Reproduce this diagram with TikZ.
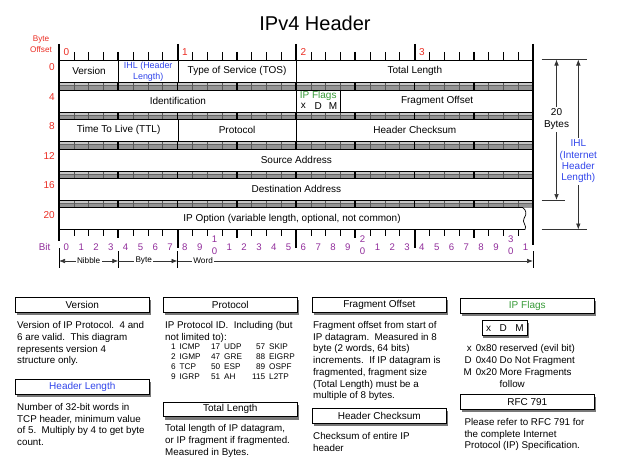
\documentclass[tikz,border=0pt]{standalone}
\usepackage{fontspec}
\setmainfont{Liberation Sans}
\usetikzlibrary{arrows.meta}
\definecolor{offred}{RGB}{235,45,35}
\definecolor{ihlblue}{RGB}{50,70,235}
\definecolor{flaggreen}{RGB}{55,155,55}
\definecolor{bitpurple}{RGB}{145,45,155}
\definecolor{shadowgray}{RGB}{120,120,120}
\newcommand\mkhbox[5][]{%
  \fill[shadowgray] ({#3+1.5},{#4+3}) rectangle ({#3+135.8},{#4+17.8});
  \node[titlebox,#1] (#2) at (#3,#4) {#5};}
\begin{document}
\begin{tikzpicture}[x=1pt,y=-1pt,
 >={Latex[length=6pt,width=4.6pt]},
 fld/.style={draw,line width=0.7pt,fill=white,inner sep=0pt,minimum height=22pt,anchor=north west,font=\fontsize{10}{11}\selectfont,align=center},
 titlebox/.style={draw,line width=0.6pt,fill=white,inner sep=0pt,anchor=north west,minimum width=134pt,minimum height=14.5pt,font=\fontsize{10}{12}\selectfont},
 desc/.style={inner sep=0pt,anchor=north west,align=left,font=\fontsize{9.8}{11.7}\selectfont},
 tabl/.style={inner sep=0pt,anchor=north west,font=\fontsize{9.8}{11.7}\selectfont},
 ptabr/.style={inner sep=0pt,anchor=north east,align=right,font=\fontsize{8.2}{10}\selectfont},
 ptabl/.style={inner sep=0pt,anchor=north west,align=left,font=\fontsize{8.2}{10}\selectfont},
 offlbl/.style={inner sep=0pt,text=offred,font=\fontsize{10}{11}\selectfont},
 bitlbl/.style={inner sep=0pt,text=bitpurple,font=\fontsize{9.6}{11}\selectfont},
 small/.style={font=\fontsize{8.2}{9}\selectfont,fill=white,inner xsep=1.5pt,inner ysep=1pt},
 dim/.style={line width=0.7pt,draw=black!80},
 septick/.style={line width=0.5pt,draw=black!65},
 nibtick/.style={line width=1.6pt,draw=black},
]
\useasboundingbox (0,0) rectangle (623,460);

% title
\node[font=\fontsize{20}{24}\selectfont,inner sep=0pt] (title) at (315,23) {IPv4 Header};

% byte offset labels
\node[offlbl,font=\fontsize{8.2}{10.5}\selectfont,align=center] (boff) at (41,44) {Byte\\Offset};
\node[offlbl,anchor=east] (o0) at (55,67.5) {0};
\node[offlbl,anchor=east] (o4) at (55,97) {4};
\node[offlbl,anchor=east] (o8) at (55,126.5) {8};
\node[offlbl,anchor=east] (o12) at (55,156) {12};
\node[offlbl,anchor=east] (o16) at (55,185.5) {16};
\node[offlbl,anchor=east] (o20) at (55,215) {20};

% top ruler labels
\node[offlbl] (t0) at ({59+14.8125*0.5},52.5) {0};
\node[offlbl] (t1) at ({59+14.8125*8.5},52.5) {1};
\node[offlbl] (t2) at ({59+14.8125*16.5},52.5) {2};
\node[offlbl] (t3) at ({59+14.8125*24.5},52.5) {3};

% top ruler ticks
\foreach \i in {1,...,31}{
  \pgfmathtruncatemacro\m{mod(\i,8)}
  \pgfmathtruncatemacro\n{mod(\i,4)}
  \ifnum\m=0
    \draw[line width=2pt] ({59+14.8125*\i},44) -- ({59+14.8125*\i},60);
  \else\ifnum\n=0
    \draw[nibtick] ({59+14.8125*\i},52) -- ({59+14.8125*\i},60);
  \else
    \draw[line width=0.5pt] ({59+14.8125*\i},52.5) -- ({59+14.8125*\i},60);
  \fi\fi
}

% separators
\foreach \s in {82,111.5,141,170.5,200}{
  \fill[black!42] (59,\s) rectangle (533,{\s+7.5});
  \fill[black!22] (59,\s) rectangle (533,{\s+3.4});
  \draw[line width=0.8pt,black!60] (59,{\s+3.6}) -- (533,{\s+3.6});
  \foreach \i in {1,...,31}{
    \pgfmathtruncatemacro\n{mod(\i,4)}
    \ifnum\n=0
      \draw[nibtick] ({59+14.8125*\i},\s) -- ({59+14.8125*\i},{\s+7.5});
    \else
      \draw[septick] ({59+14.8125*\i},\s) -- ({59+14.8125*\i},{\s+7.5});
    \fi
  }
}

% row 0
\node[fld,minimum width=59.25pt] (ver) at (59,60) {Version};
\node[fld,minimum width=59.25pt,text=ihlblue,font=\fontsize{8.9}{11}\selectfont] (ihl) at (118.25,60) {IHL (Header\\Length)};
\node[fld,minimum width=118.5pt] (tos) at (177.5,60) {Type of Service (TOS)};
\node[fld,minimum width=237pt] (tlen) at (296,60) {Total Length};
% row 4
\node[fld,minimum width=237pt] (ident) at (59,89.5) {Identification};
\node[fld,minimum width=44.4375pt] (flags) at (296,89.5) {};
\node[fld,minimum width=192.5625pt] (frag) at (340.4375,89.5) {Fragment Offset};
\node[inner sep=0pt,text=flaggreen,font=\fontsize{10}{11}\selectfont] (flagt) at (318.2,96.2) {IP Flags};
\node[inner sep=0pt,font=\fontsize{10}{11}\selectfont] (fx) at ({59+14.8125*16.5},106.3) {x};
\node[inner sep=0pt,font=\fontsize{10}{11}\selectfont] (fd) at ({59+14.8125*17.5},105.8) {D};
\node[inner sep=0pt,font=\fontsize{10}{11}\selectfont] (fm) at ({59+14.8125*18.5},105.8) {M};
% row 8
\node[fld,minimum width=118.5pt] (ttl) at (59,119) {Time To Live (TTL)};
\node[fld,minimum width=118.5pt] (proto) at (177.5,119) {Protocol};
\node[fld,minimum width=237pt] (csum) at (296,119) {Header Checksum};
% rows 12, 16
\node[fld,minimum width=474pt] (src) at (59,148.5) {Source Address};
\node[fld,minimum width=474pt] (dst) at (59,178) {Destination Address};
% row 20
\draw[line width=0.7pt,fill=white] (59,207.5) -- (522.5,207.5)
  .. controls (526.5,210) and (527,214) .. (524,218.5)
  .. controls (521.5,222) and (527.5,226) .. (525,229.5) -- (59,229.5) -- cycle;
\node[inner sep=0pt,font=\fontsize{10}{11}\selectfont] (ipopt) at (292,218.5) {IP Option (variable length, optional, not common)};

% bottom ruler ticks
\foreach \i in {1,...,31}{
  \pgfmathtruncatemacro\m{mod(\i,8)}
  \pgfmathtruncatemacro\n{mod(\i,4)}
  \ifnum\m=0
    \draw[line width=2pt] ({59+14.8125*\i},229.5) -- ({59+14.8125*\i},248);
  \else\ifnum\n=0
    \draw[nibtick] ({59+14.8125*\i},229.5) -- ({59+14.8125*\i},238);
  \else
    \draw[line width=0.5pt] ({59+14.8125*\i},229.5) -- ({59+14.8125*\i},236);
  \fi\fi
}

% main edges
\draw[line width=2.4pt] (59,44) -- (59,241);
\draw[line width=2.4pt] (533,44) -- (533,245);

% bit labels
\node[bitlbl,anchor=east,font=\fontsize{9.8}{11}\selectfont] (bitw) at (50.5,246.5) {Bit};
\foreach \i in {0,...,31}{
  \pgfmathtruncatemacro\d{mod(\i,10)}
  \pgfmathtruncatemacro\t{div(\i,10)}
  \ifnum\d=0 \ifnum\i>0
    \node[bitlbl] (bt\i) at ({59+14.8125*(\i+0.5)},239.5) {\t};
    \node[bitlbl] (bb\i) at ({59+14.8125*(\i+0.5)},251) {0};
  \else
    \node[bitlbl] (b\i) at ({59+14.8125*(\i+0.5)},247) {0};
  \fi\else
    \node[bitlbl] (b\i) at ({59+14.8125*(\i+0.5)},247) {\d};
  \fi
}

% nibble / byte / word
\coordinate (n0) at (59,261);
\coordinate (n1) at (118.25,261);
\coordinate (n2) at (177.5,261);
\coordinate (n3) at (533,261);
\draw[line width=0.6pt] (59,248) -- (59,268);
\draw[line width=0.6pt] (118.25,251) -- (118.25,268);
\draw[line width=0.6pt] (177.5,251) -- (177.5,268);
\draw[line width=0.6pt] (533,251) -- (533,268);
\draw[dim,<->] (n0) -- node[small] (nib) {Nibble} (n1);
\draw[dim,->] (n1) -- node[small,pos=0.43] (byt) {Byte} (n2);
\draw[dim,->] (n2) -- node[small,pos=0.072] (wrd) {Word} (n3);

% right dimensions
\coordinate (tl) at (541.5,59.5);
\coordinate (tr) at (587,59.5);
\coordinate (ml) at (541.5,200);
\coordinate (mr) at (564.5,200);
\coordinate (bl) at (541.5,229.5);
\coordinate (br) at (587,229.5);
\coordinate (a20t) at (556.5,59.5);
\coordinate (a20b) at (556.5,200);
\coordinate (ihlt) at (578.3,59.5);
\coordinate (ihlb) at (578.3,229.5);
\draw[dim] (tl) -- (tr);
\draw[dim] (ml) -- (mr);
\draw[dim] (bl) -- (br);
\draw[dim,<->] (a20t) -- node[pos=0.425,fill=white,align=center,inner xsep=1pt,inner ysep=2pt,font=\fontsize{10}{12}\selectfont] (bytes20) {20\\Bytes} (a20b);
\draw[dim,<->] (ihlt) -- node[pos=0.6,fill=white,align=center,inner xsep=1pt,inner ysep=2pt,text=ihlblue,font=\fontsize{10}{11.3}\selectfont] (ihllbl) {IHL\\(Internet\\Header\\Length)} (ihlb);

% ---- description boxes ----
\mkhbox{hver}{15}{297}{Version}
\node[desc] (dver) at (17,321.3) {Version of IP Protocol.\ \ 4 and\\6 are valid.\ \ This diagram\\represents version 4\\structure only.};
\mkhbox[text=ihlblue]{hhl}{15}{379}{Header Length}
\node[desc] (dhl) at (17,403) {Number of 32-bit words in\\TCP header, minimum value\\of 5.\ \ Multiply by 4 to get byte\\count.};

\mkhbox{hpro}{163}{297}{Protocol}
\node[desc] (dpro) at (165,321.3) {IP Protocol ID.\ \ Including (but\\not limited to):};
\node[ptabr] (pn1) at (176,343.8) {1\\2\\6\\9};
\node[ptabl] (pa1) at (179.5,343.8) {ICMP\\IGMP\\TCP\\IGRP};
\node[ptabr] (pn2) at (220.5,343.8) {17\\47\\50\\51};
\node[ptabl] (pa2) at (224,343.8) {UDP\\GRE\\ESP\\AH};
\node[ptabr] (pn3) at (265.5,343.8) {57\\88\\89\\115};
\node[ptabl] (pa3) at (269,343.8) {SKIP\\EIGRP\\OSPF\\L2TP};
\mkhbox{htl}{163}{401.7}{Total Length}
\node[desc] (dtl) at (165,424.6) {Total length of IP datagram,\\or IP fragment if fragmented.\\Measured in Bytes.};

\mkhbox{hfo}{312}{297}{Fragment Offset}
\node[desc] (dfo) at (313,321.3) {Fragment offset from start of\\IP datagram.\ \ Measured in 8\\byte (2 words, 64 bits)\\increments.\ \ If IP datagram is\\fragmented, fragment size\\(Total Length) must be a\\multiple of 8 bytes.};
\mkhbox{hcs}{312}{408.3}{Header Checksum}
\node[desc] (dcs) at (313,432.3) {Checksum of entire IP\\header};

\mkhbox[text=flaggreen]{hfl}{460}{298}{IP Flags}
\fill[shadowgray] (483.2,323) rectangle (528.8,338);
\node[titlebox,minimum width=45.6pt,minimum height=15pt] (xdm) at (481.7,320) {x\hspace{8.5pt}D\hspace{8.5pt}M};
\node[tabl] (dfl) at (463.4,343.6) {\begin{tabular}{@{}r@{\hspace{4pt}}l@{\ }l@{}}x & 0x80 & reserved (evil bit)\\D & 0x40 & Do Not Fragment\\M & 0x20 & More Fragments\\ & & follow\end{tabular}};
\mkhbox{hrfc}{460}{394.3}{RFC 791}
\node[desc] (drfc) at (464.3,418) {Please refer to RFC 791 for\\the complete Internet\\Protocol (IP) Specification.};
\end{tikzpicture}
\end{document}
